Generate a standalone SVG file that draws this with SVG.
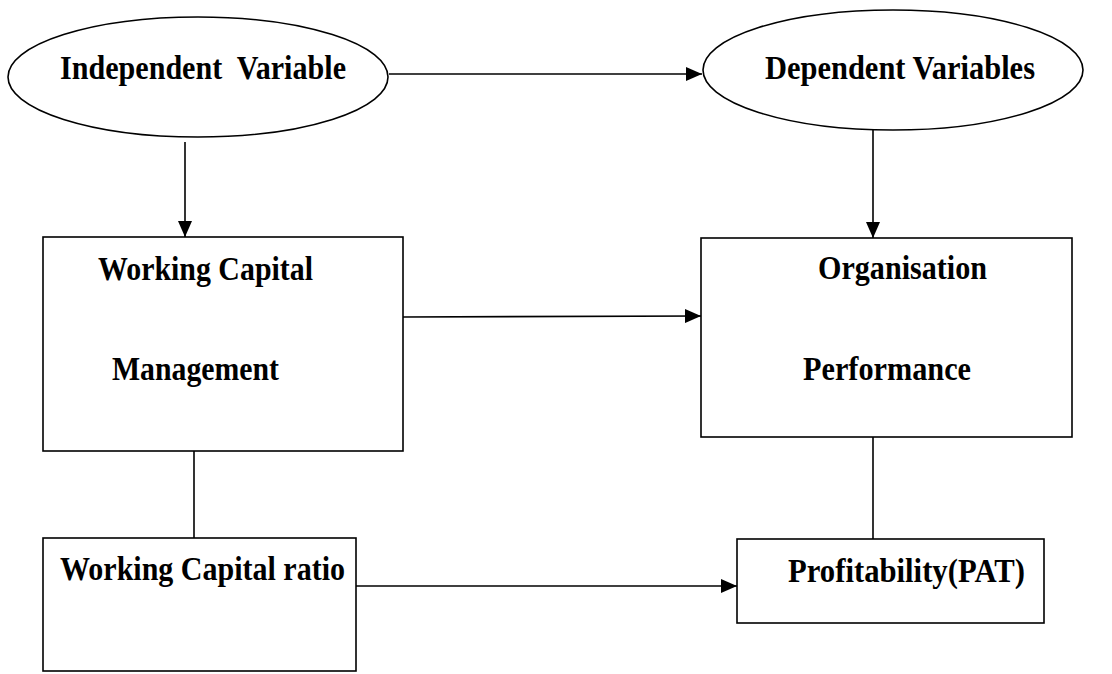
<svg xmlns="http://www.w3.org/2000/svg" width="1112" height="674" viewBox="0 0 1112 674">
<style>
.shape{fill:#fff;stroke:#000;stroke-width:1.6}
.conn{fill:none;stroke:#000;stroke-width:1.6}
.lbl{font-family:"Liberation Serif","Times New Roman",serif;font-weight:bold;font-size:33px;fill:#000}
</style>
<defs>
<marker id="arr" viewBox="0 0 16 14" refX="16" refY="7" markerWidth="16" markerHeight="14" markerUnits="userSpaceOnUse" orient="auto">
<path d="M0,0 L16,7 L0,14 Z" fill="#000"/>
</marker>
</defs>
<rect width="1112" height="674" fill="#fff"/>
<g id="indep">
<ellipse class="shape" cx="198" cy="77" rx="190" ry="60"/>
<text class="lbl" x="60" y="79" textLength="286" lengthAdjust="spacingAndGlyphs" xml:space="preserve">Independent  Variable</text>
</g>
<g id="dep">
<ellipse class="shape" cx="893" cy="70" rx="190" ry="60"/>
<text class="lbl" x="765" y="79" textLength="270" lengthAdjust="spacingAndGlyphs">Dependent Variables</text>
</g>
<g id="wcm">
<rect class="shape" x="43" y="237" width="360" height="214"/>
<text class="lbl" x="98" y="280" textLength="215" lengthAdjust="spacingAndGlyphs">Working Capital</text>
<text class="lbl" x="112" y="380" textLength="167" lengthAdjust="spacingAndGlyphs">Management</text>
</g>
<g id="op">
<rect class="shape" x="701" y="238" width="371" height="199"/>
<text class="lbl" x="818" y="279" textLength="169" lengthAdjust="spacingAndGlyphs">Organisation</text>
<text class="lbl" x="803" y="380" textLength="168" lengthAdjust="spacingAndGlyphs">Performance</text>
</g>
<g id="wcr">
<rect class="shape" x="43" y="538" width="313" height="133"/>
<text class="lbl" x="60" y="580" textLength="285" lengthAdjust="spacingAndGlyphs">Working Capital ratio</text>
</g>
<g id="pat">
<rect class="shape" x="737" y="539" width="307" height="84"/>
<text class="lbl" x="788" y="582" textLength="237" lengthAdjust="spacingAndGlyphs">Profitability(PAT)</text>
</g>
<g id="connectors">
<line class="conn" x1="389" y1="74" x2="702" y2="74" marker-end="url(#arr)"/>
<line class="conn" x1="185" y1="142" x2="185" y2="237" marker-end="url(#arr)"/>
<line class="conn" x1="873" y1="130" x2="873" y2="238" marker-end="url(#arr)"/>
<line class="conn" x1="403" y1="317" x2="701" y2="316" marker-end="url(#arr)"/>
<line class="conn" x1="194" y1="451" x2="194" y2="538"/>
<line class="conn" x1="873" y1="437" x2="873" y2="539"/>
<line class="conn" x1="356" y1="586" x2="737" y2="586" marker-end="url(#arr)"/>
</g>
</svg>
